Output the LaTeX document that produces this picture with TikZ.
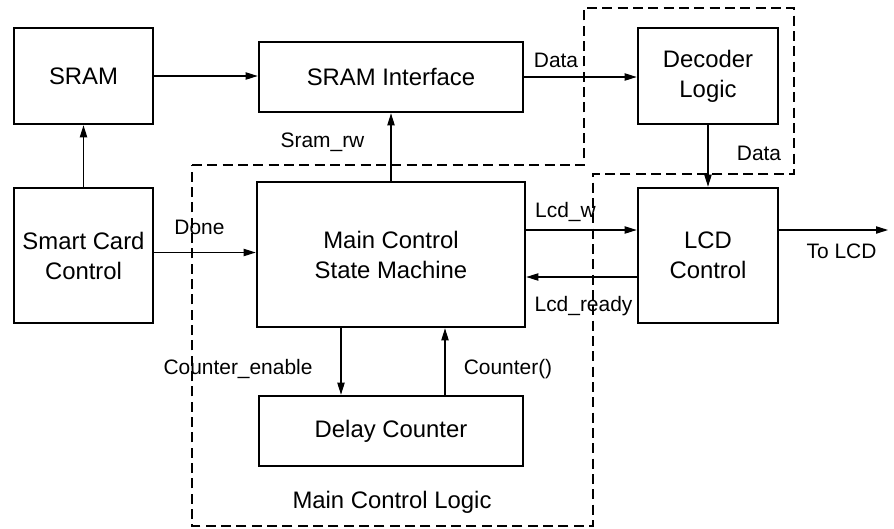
\documentclass[tikz,border=0pt]{standalone}
\usepackage{fontspec}
\setmainfont{Liberation Sans}
\usetikzlibrary{arrows.meta,calc}
\begin{document}
\begin{tikzpicture}[x=0.75pt,y=-0.75pt,
  blk/.style={draw,line width=2pt,inner sep=0pt,align=center,
    font=\fontsize{17.9}{22.5}\selectfont},
  lbl/.style={anchor=base,inner sep=0pt,font=\fontsize{15.7}{19}\selectfont},
  biglbl/.style={anchor=base,inner sep=0pt,font=\fontsize{17.9}{22.5}\selectfont},
  conn/.style={line width=0.8pt,-{Triangle[length=9pt,width=5.5pt]}},
  region/.style={line width=0.9pt,dash pattern=on 7.5pt off 4pt}]
\useasboundingbox (0,0) rectangle (894,529);
% region
\draw[region] (192,165) -- (584,165) -- (584,8) -- (794,8) -- (794,174)
  -- (593,174) -- (593,526) -- (192,526) -- cycle;
% blocks
\node[blk,minimum width=104.25pt,minimum height=72pt] (sram) at (83.5,76) {SRAM};
\node[blk,minimum width=198pt,minimum height=52.5pt] (sramif) at (391,77) {SRAM Interface};
\node[blk,minimum width=104.25pt,minimum height=101.25pt] (smart) at (83.5,255.5) {Smart Card\\Control};
\node[blk,minimum width=201pt,minimum height=108.75pt] (main) at (391,254.5) {Main Control\\State Machine};
\node[blk,minimum width=198pt,minimum height=52.5pt] (delay) at (391,431) {Delay Counter};
\node[blk,minimum width=105pt,minimum height=72pt] (dec) at (708,76) {Decoder\\Logic};
\node[blk,minimum width=105pt,minimum height=101.25pt] (lcd) at (708,255.5) {LCD\\Control};
\coordinate (out) at (888,230);
% connector start points
\coordinate (pDone) at ($(smart.east)+(0,-3)$);
\coordinate (pLw) at ($(main.east)+(0,-24.5)$);
\coordinate (pLr) at ($(lcd.west)+(0,21.5)$);
\coordinate (pTo) at ($(lcd.east)+(0,-25.5)$);
\coordinate (pCe) at ($(main.south)+(-50,0)$);
\coordinate (pC) at ($(delay.north)+(54,0)$);
% connectors
\draw[conn] (sram.east) -- (sram.east -| sramif.west);
\draw[conn] (smart.north) -- (sram.south);
\draw[conn] (pDone) -- (pDone -| main.west);
\draw[conn] (main.north) -- (main.north |- sramif.south);
\draw[conn] (sramif.east) -- (sramif.east -| dec.west);
\draw[conn] (dec.south) -- (lcd.north);
\draw[conn] (pLw) -- (pLw -| lcd.west);
\draw[conn] (pLr) -- (pLr -| main.east);
\draw[conn] (pTo) -- (out);
\draw[conn] (pCe) -- (pCe |- delay.north);
\draw[conn] (pC) -- (pC |- main.south);
% labels
\node[lbl] (lDone) at (199.5,234) {Done};
\node[lbl] (lSrw) at (322.5,147) {Sram\_rw};
\node[lbl] (lData) at (556,67) {Data};
\node[lbl] (lData2) at (759,160) {Data};
\node[lbl] (lLw) at (565.5,217) {Lcd\_w};
\node[lbl] (lLr) at (583.5,311) {Lcd\_ready};
\node[lbl] (lTo) at (841.5,258) {To LCD};
\node[lbl] (lCe) at (238,374) {Counter\_enable};
\node[lbl] (lC) at (508,374) {Counter()};
\node[biglbl] (lMcl) at (392,508) {Main Control Logic};
\end{tikzpicture}
\end{document}
